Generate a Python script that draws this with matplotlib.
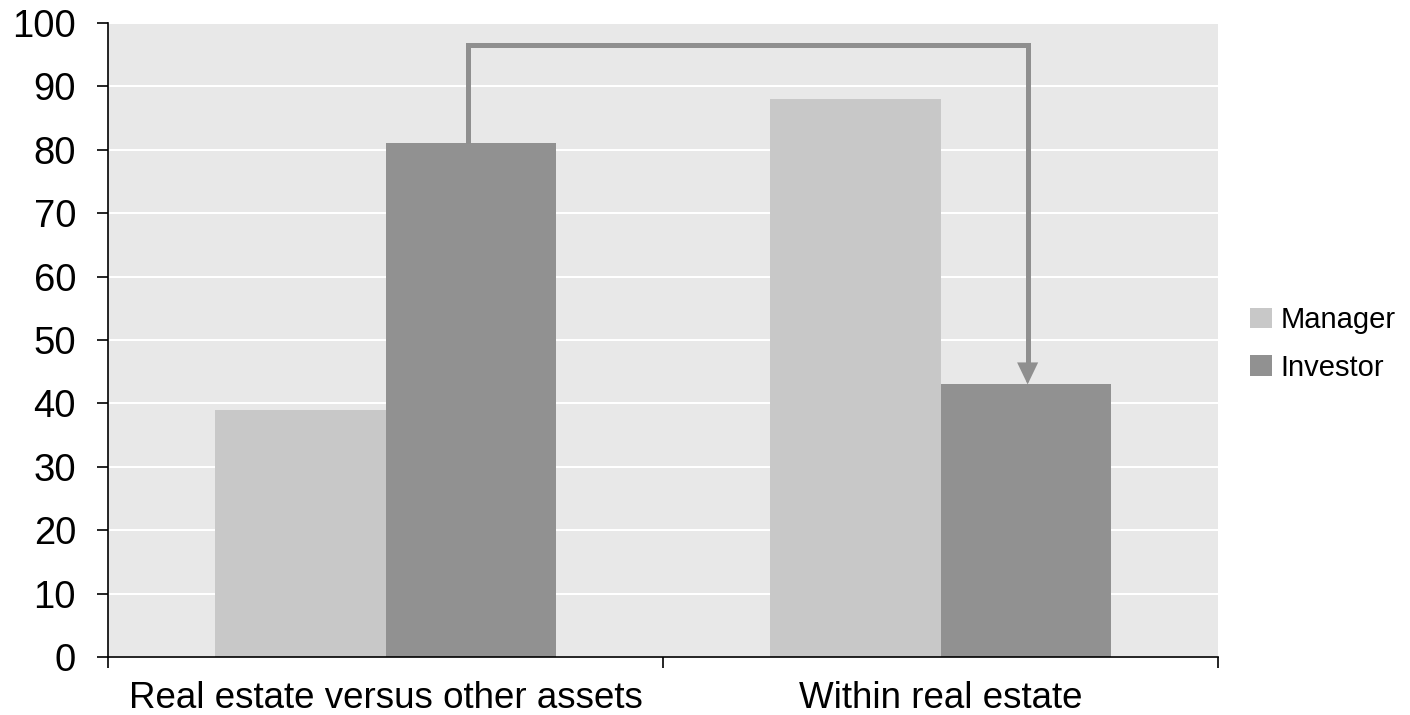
import matplotlib
matplotlib.use("Agg")
import matplotlib.pyplot as plt
import numpy as np

plt.rcParams['font.family'] = ['Liberation Sans', 'DejaVu Sans']

categories = ["Real estate versus other assets", "Within real estate"]
series_names = ["Manager", "Investor"]
manager = [39, 88]
investor = [81, 43]
colors = ["#c8c8c8", "#919191"]
arrow_top = 96.6

fig = plt.figure(figsize=(14.1, 7.15), dpi=100)
ax = fig.add_axes([108/1410, 1-657/715, (1218-108)/1410, (657-23)/715])
ax.set_facecolor("#e8e8e8")

centers = np.arange(len(categories)) + 0.5
w = 0.308
b1 = ax.bar(centers - w/2, manager, width=w, color=colors[0], label=series_names[0], zorder=2)
b2 = ax.bar(centers + w/2, investor, width=w, color=colors[1], label=series_names[1], zorder=2)

ax.set_xlim(0, len(categories))
ax.set_ylim(0, 100)
ax.set_yticks(np.arange(0, 101, 10))
ax.yaxis.grid(True, color="white", linewidth=1.5, zorder=1)
ax.set_axisbelow(True)

ax.set_xticks(np.arange(0, len(categories) + 1))
ax.set_xticklabels([])
ax.set_xticks(centers, minor=True)
ax.set_xticklabels(categories, minor=True)
ax.tick_params(axis='x', which='minor', length=0, pad=17, labelsize=26.5)
ax.tick_params(axis='x', which='major', length=8, width=1.2, direction='out')
ax.tick_params(axis='y', length=8, width=1.2, pad=15, labelsize=27.5, direction='out')

for s in ["top", "right"]:
    ax.spines[s].set_visible(False)
for s in ["left", "bottom"]:
    ax.spines[s].set_linewidth(1.2)
    ax.spines[s].set_color("black")

# arrow from investor bar 1 to investor bar 2
x0 = centers[0] + w/2 - 0.005
x1 = centers[1] + w/2 + 0.003
acol = "#8f8f8f"
ax.plot([x0, x0, x1, x1], [investor[0], arrow_top, arrow_top, investor[1] + 3],
        color=acol, lw=3.6, zorder=3,
        solid_joinstyle='miter', solid_capstyle='butt', clip_on=False)
ax.annotate("", xy=(x1, investor[1]), xytext=(x1, investor[1] + 6),
            arrowprops=dict(arrowstyle="-|>,head_length=1.25,head_width=0.6", color=acol, lw=2,
                            shrinkA=0, shrinkB=0, joinstyle='miter'), zorder=3)

fig.legend(handles=[b1, b2], labels=series_names, loc='center left',
           bbox_to_anchor=(1250/1410, 1-344/715), frameon=False, fontsize=21,
           borderpad=0, borderaxespad=0,
           handlelength=0.76, handleheight=0.69, handletextpad=0.28, labelspacing=0.67)

fig.savefig("out.png", dpi=100)
